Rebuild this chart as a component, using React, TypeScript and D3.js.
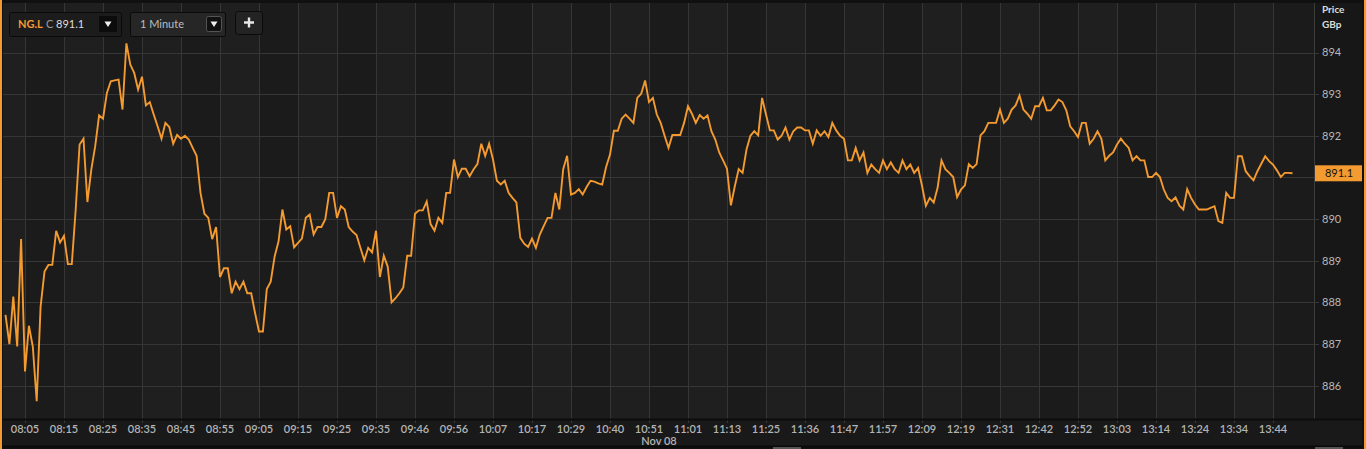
import { useEffect, useRef } from 'react';
import * as d3 from 'd3';

// one-minute closes of NG.L, 08:00 onwards (index = minute bar)
const prices = [
  887.7, 887.0, 888.14, 886.94, 889.52, 886.34, 887.44, 886.94, 885.63, 887.9,
  888.74, 888.9, 888.9, 889.72, 889.44, 889.6, 888.92, 888.92, 890.23, 891.79,
  891.93, 890.41, 891.19, 891.75, 892.49, 892.41, 893.03, 893.31, 893.33, 893.35,
  892.63, 894.22, 893.71, 893.51, 893.11, 893.42, 892.73, 892.81, 892.51, 892.23,
  891.93, 892.31, 892.21, 891.81, 892.02, 891.93, 892.0, 891.91, 891.71, 891.52,
  890.63, 890.13, 890.03, 889.52, 889.81, 888.61, 888.82, 888.82, 888.22, 888.5,
  888.32, 888.5, 888.22, 888.22, 887.74, 887.3, 887.3, 888.32, 888.5, 889.1,
  889.46, 890.23, 889.75, 889.83, 889.32, 889.43, 889.53, 890.03, 890.11, 889.63,
  889.81, 889.81, 890.0, 890.63, 890.63, 890.03, 890.31, 890.23, 889.81, 889.7,
  889.62, 889.31, 889.01, 889.31, 889.2, 889.72, 888.61, 889.12, 888.86, 888.0,
  888.1, 888.22, 888.36, 889.12, 889.12, 890.13, 890.21, 890.21, 890.42, 889.88,
  889.72, 890.03, 889.91, 890.63, 890.63, 891.43, 891.01, 891.21, 891.21, 891.03,
  891.19, 891.32, 891.81, 891.52, 891.81, 891.43, 890.92, 890.83, 890.92, 890.63,
  890.51, 890.4, 889.55, 889.41, 889.33, 889.53, 889.31, 889.63, 889.83, 890.03,
  890.03, 890.63, 890.23, 891.2, 891.52, 890.59, 890.63, 890.72, 890.59, 890.77,
  890.92, 890.9, 890.86, 890.83, 891.25, 891.55, 892.12, 892.12, 892.41, 892.51,
  892.41, 892.31, 892.91, 893.01, 893.33, 892.81, 892.91, 892.51, 892.31, 892.0,
  891.71, 892.02, 892.02, 892.02, 892.31, 892.71, 892.53, 892.31, 892.5, 892.41,
  892.49, 892.11, 891.91, 891.6, 891.41, 891.21, 890.33, 890.79, 891.2, 891.11,
  891.67, 892.0, 892.11, 892.01, 892.91, 892.51, 892.13, 892.13, 891.91, 892.0,
  892.2, 891.91, 892.11, 892.2, 892.2, 892.13, 892.13, 891.81, 892.13, 892.0,
  892.11, 891.97, 892.31, 892.13, 892.0, 891.93, 891.41, 891.41, 891.71, 891.41,
  891.6, 891.11, 891.31, 891.2, 891.11, 891.41, 891.2, 891.36, 891.2, 891.11,
  891.41, 891.2, 891.31, 891.11, 891.23, 890.8, 890.32, 890.51, 890.4, 890.75,
  891.41, 891.2, 891.11, 891.01, 890.53, 890.71, 890.81, 891.32, 891.23, 891.32,
  892.01, 892.11, 892.31, 892.31, 892.31, 892.63, 892.31, 892.41, 892.63, 892.73,
  892.97, 892.63, 892.53, 892.41, 892.71, 892.71, 892.91, 892.61, 892.61, 892.73,
  892.87, 892.81, 892.61, 892.23, 892.11, 891.97, 892.31, 892.31, 891.81, 891.93,
  892.11, 891.93, 891.41, 891.52, 891.6, 891.79, 891.93, 891.81, 891.71, 891.41,
  891.51, 891.41, 891.41, 891.01, 891.01, 891.11, 891.01, 890.71, 890.51, 890.43,
  890.52, 890.32, 890.23, 890.72, 890.51, 890.35, 890.23, 890.23, 890.23, 890.27,
  890.31, 889.95, 889.91, 890.63, 890.51, 890.51, 891.51, 891.51, 891.15, 891.03,
  890.93, 891.15, 891.33, 891.51, 891.39, 891.31, 891.17, 891.01, 891.11, 891.11,
  891.1,
];

// one label every 10 bars, starting at bar 5
const timeLabels = [
  '08:05', '08:15', '08:25', '08:35', '08:45', '08:55', '09:05', '09:15', '09:25',
  '09:35', '09:46', '09:56', '10:07', '10:17', '10:29', '10:40', '10:51', '11:01',
  '11:13', '11:25', '11:36', '11:47', '11:57', '12:09', '12:19', '12:31', '12:42',
  '12:52', '13:03', '13:14', '13:24', '13:34', '13:44',
];

const priceTicks = [886, 887, 888, 889, 890, 891, 892, 893, 894];

const W = 1366;
const H = 449;
const FONT = 'Lato, "Open Sans", sans-serif';
const ORANGE = '#f39a30';

export default function App() {
  const svgRef = useRef<SVGSVGElement>(null);

  useEffect(() => {
    if (!svgRef.current) return;
    const svg = d3.select(svgRef.current);
    svg.selectAll('*').remove();

    const plot = { left: 3, right: 1314, top: 3, bottom: 419 };

    const x = d3.scaleLinear().domain([0, 330]).range([5.5, 1292.5]);
    const y = d3.scaleLinear().domain([886, 894]).range([385.7, 52.5]);
    const tickIdx = timeLabels.map((_, i) => 5 + i * 10);
    const last = prices[prices.length - 1];

    // outer frame
    svg.append('rect').attr('width', W).attr('height', H).attr('fill', '#101010');
    svg.append('rect')
      .attr('x', plot.left).attr('y', plot.top)
      .attr('width', plot.right - plot.left).attr('height', plot.bottom - plot.top)
      .attr('fill', '#1b1b1b');

    // alternating column bands
    const edges = [plot.left, ...tickIdx.map((i) => x(i)), plot.right];
    for (let k = 0; k < edges.length - 1; k++) {
      if (k % 2 === 1) continue;
      svg.append('rect')
        .attr('x', edges[k]).attr('y', plot.top)
        .attr('width', edges[k + 1] - edges[k]).attr('height', plot.bottom - plot.top)
        .attr('fill', '#1f1f1f');
    }

    // x axis strip + right axis strip
    svg.append('rect')
      .attr('x', plot.left).attr('y', plot.bottom)
      .attr('width', 1362 - plot.left).attr('height', 446 - plot.bottom)
      .attr('fill', '#191919');
    svg.append('rect')
      .attr('x', plot.right).attr('y', plot.top)
      .attr('width', 1362 - plot.right).attr('height', plot.bottom - plot.top)
      .attr('fill', '#171717');

    // grid
    const grid = svg.append('g').attr('stroke', '#363636').attr('stroke-width', 1);
    tickIdx.forEach((i) => {
      const xx = Math.round(x(i)) + 0.5;
      grid.append('line')
        .attr('x1', xx).attr('x2', xx)
        .attr('y1', plot.top).attr('y2', plot.bottom + 4);
    });
    priceTicks.forEach((v) => {
      const yy = Math.round(y(v)) + 0.5;
      grid.append('line')
        .attr('x1', plot.left).attr('x2', plot.right + 5)
        .attr('y1', yy).attr('y2', yy);
    });

    // axis borders
    svg.append('line')
      .attr('x1', plot.right + 0.5).attr('x2', plot.right + 0.5)
      .attr('y1', plot.top).attr('y2', plot.bottom)
      .attr('stroke', '#3c3c3c');
    svg.append('line')
      .attr('x1', plot.left).attr('x2', 1362)
      .attr('y1', plot.bottom + 0.5).attr('y2', plot.bottom + 0.5)
      .attr('stroke', '#0c0c0c').attr('stroke-width', 2);
    svg.append('line')
      .attr('x1', plot.left).attr('x2', 1362)
      .attr('y1', 446.5).attr('y2', 446.5)
      .attr('stroke', '#0a0a0a').attr('stroke-width', 2);

    // price line
    const line = d3.line<number>()
      .x((_, i) => x(i))
      .y((d) => y(d));
    svg.append('path')
      .datum(prices)
      .attr('d', line)
      .attr('fill', 'none')
      .attr('stroke', ORANGE)
      .attr('stroke-width', 1.9)
      .attr('stroke-linejoin', 'miter');

    // y labels (the one under the last-price tag is hidden)
    const yl = svg.append('g')
      .attr('font-family', FONT).attr('font-size', 11).attr('fill', '#b8b8b8');
    priceTicks
      .filter((v) => Math.abs(y(v) - y(last)) > 12)
      .forEach((v) => {
        yl.append('text')
          .attr('x', 1322).attr('y', y(v)).attr('dy', '0.35em')
          .text(v);
      });
    svg.append('text')
      .attr('x', 1322).attr('y', 13)
      .attr('font-family', FONT).attr('font-size', 10).attr('font-weight', 'bold')
      .attr('fill', '#dcdcdc').text('Price');
    svg.append('text')
      .attr('x', 1322).attr('y', 28)
      .attr('font-family', FONT).attr('font-size', 10).attr('font-weight', 'bold')
      .attr('fill', '#dcdcdc').text('GBp');

    // last price marker
    svg.append('rect')
      .attr('x', 1315).attr('y', y(last) - 8)
      .attr('width', 47).attr('height', 16)
      .attr('fill', ORANGE);
    svg.append('text')
      .attr('x', 1339).attr('y', y(last)).attr('dy', '0.36em')
      .attr('text-anchor', 'middle')
      .attr('font-family', FONT).attr('font-size', 11)
      .attr('fill', '#111').text(last.toFixed(1));

    // x labels
    const xl = svg.append('g')
      .attr('font-family', FONT).attr('font-size', 11).attr('font-weight', 600)
      .attr('fill', '#b4b4b4').attr('text-anchor', 'middle');
    timeLabels.forEach((t, i) => {
      xl.append('text').attr('x', x(tickIdx[i])).attr('y', 433).text(t);
    });
    svg.append('text')
      .attr('x', 659).attr('y', 445).attr('text-anchor', 'middle')
      .attr('font-family', FONT).attr('font-size', 11).attr('font-weight', 600)
      .attr('fill', '#b4b4b4').text('Nov 08');

    // scrollbar bits
    svg.append('rect').attr('x', 773).attr('y', 447).attr('width', 28).attr('height', 2).attr('fill', '#555');
    svg.append('rect').attr('x', 1315).attr('y', 447).attr('width', 28).attr('height', 2).attr('fill', '#555');

    // orange side edges
    svg.append('rect').attr('x', 0).attr('y', 0).attr('width', 2).attr('height', H).attr('fill', ORANGE);
    svg.append('rect').attr('x', 1364).attr('y', 0).attr('width', 2).attr('height', H).attr('fill', ORANGE);

    // toolbar
    const tb = svg.append('g').attr('font-family', FONT);
    tb.append('rect')
      .attr('x', 9.5).attr('y', 12.5).attr('width', 112).attr('height', 24).attr('rx', 2)
      .attr('fill', '#1c1c1c').attr('stroke', '#0a0a0a');
    tb.append('text')
      .attr('x', 18).attr('y', 28).attr('font-size', 11).attr('font-weight', 'bold')
      .attr('fill', ORANGE).text('NG.L');
    tb.append('text')
      .attr('x', 46).attr('y', 28).attr('font-size', 11)
      .attr('fill', '#9a9a9a').text('C');
    tb.append('text')
      .attr('x', 56).attr('y', 28).attr('font-size', 11)
      .attr('fill', '#dedede').text('891.1');
    tb.append('rect')
      .attr('x', 99).attr('y', 16).attr('width', 18).attr('height', 16)
      .attr('fill', '#0c0c0c');
    tb.append('path').attr('d', 'M104.5,21.5 L111.5,21.5 L108,27 Z').attr('fill', '#eee');

    tb.append('rect')
      .attr('x', 130.5).attr('y', 12.5).attr('width', 95).attr('height', 24).attr('rx', 2)
      .attr('fill', '#262626').attr('stroke', '#0a0a0a');
    tb.append('text')
      .attr('x', 140).attr('y', 28).attr('font-size', 11)
      .attr('fill', '#bdbdbd').text('1 Minute');
    tb.append('rect')
      .attr('x', 206.5).attr('y', 16.5).attr('width', 15).attr('height', 15).attr('rx', 2)
      .attr('fill', '#111').attr('stroke', '#555');
    tb.append('path').attr('d', 'M210.5,21.5 L217.5,21.5 L214,27 Z').attr('fill', '#eee');

    tb.append('rect')
      .attr('x', 235.5).attr('y', 11.5).attr('width', 27).attr('height', 23).attr('rx', 3)
      .attr('fill', '#232323').attr('stroke', '#0a0a0a');
    tb.append('path')
      .attr('d', 'M249,17.5 V27.5 M244,22.5 H254')
      .attr('stroke', '#e6e6e6').attr('stroke-width', 2.4);
  }, []);

  return (
    <svg
      ref={svgRef}
      width={W}
      height={H}
      style={{ position: 'absolute', left: 0, top: 0, display: 'block' }}
    />
  );
}
